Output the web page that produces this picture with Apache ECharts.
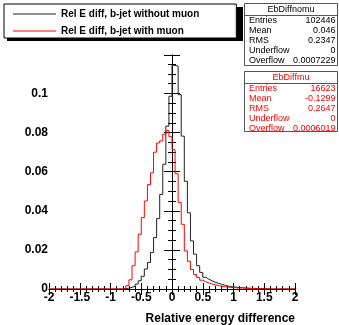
<!DOCTYPE html>
<html lang="en">
<head>
    <meta charset="UTF-8">
    <title>EbDiff</title>
    <script src="https://cdn.jsdelivr.net/npm/echarts@6/dist/echarts.min.js"></script>
    <style>
        body{margin:0;background:#fff;}
    </style>
</head>
<body>
    <div id="myChart" style="width: 339px;height:325px;"></div>

    <script>
        // histogram binning: 80 bins from -2 to 2
        var binStart = -2;
        var binWidth = 0.05;

        // Rel E diff, b-jet without muon (black)
        var noMuon = [
            0, 0, 0, 0, 0, 0, 0, 0, 0, 0,
            0, 0, 0, 0, 0, 0, 0, 0, 0, 0,
            0, 0, 0, 0, 0.0002, 0.0004, 0.0008, 0.0014, 0.0025, 0.0042,
            0.0065, 0.0102, 0.0136, 0.0187, 0.0263, 0.0360, 0.0484, 0.0638, 0.0833, 0.0986,
            0.1144, 0.1140, 0.0994, 0.0782, 0.0551, 0.0390, 0.0246, 0.0178, 0.0119, 0.0085,
            0.0060, 0.0050, 0.0042, 0.0035, 0.0030, 0.0025, 0.0020, 0.0016, 0.0013, 0.0011,
            0.0009, 0.0007, 0.0006, 0.0005, 0.0004, 0.0003, 0.0003, 0.0002, 0.0002, 0.0001,
            0.0001, 0, 0, 0, 0, 0, 0, 0, 0, 0
        ];
        // Rel E diff, b-jet with muon (red)
        var withMuon = [
            0, 0, 0, 0, 0, 0, 0, 0, 0, 0,
            0, 0, 0, 0, 0, 0, 0, 0, 0, 0,
            0, 0, 0, 0.0001, 0.0004, 0.0017, 0.0047, 0.0119, 0.0190, 0.0280,
            0.0365, 0.0450, 0.0534, 0.0594, 0.0700, 0.0747, 0.0758, 0.0792, 0.0811, 0.0779,
            0.0713, 0.0590, 0.0443, 0.0331, 0.0195, 0.0142, 0.0100, 0.0074, 0.0059, 0.0045,
            0.0037, 0.0031, 0.0026, 0.0022, 0.0018, 0.0015, 0.0012, 0.0010, 0.0008, 0.0007,
            0.0006, 0.0005, 0.0006, 0.0004, 0.0003, 0.0002, 0.0002, 0.0001, 0.0001, 0.0002,
            0.0001, 0, 0, 0, 0, 0, 0, 0, 0, 0
        ];

        var legendNames = ['Rel E diff, b-jet without muon', 'Rel E diff, b-jet with muon'];
        var statLabels = ['Entries', 'Mean', 'RMS', 'Underflow', 'Overflow'];
        var statsNoMu = ['102446', '0.046', '0.2347', '0', '0.0007229'];
        var statsMu = ['16623', '-0.1299', '0.2647', '0', '0.0006019'];

        function toSteps(values) {
            var pts = [];
            for (var i = 0; i < values.length; i++) {
                pts.push([binStart + i * binWidth, values[i]]);
            }
            pts.push([binStart + values.length * binWidth, values[values.length - 1]]);
            return pts;
        }

        var font = '"Liberation Sans", Arial, Helvetica, sans-serif';

        // stats box drawn as graphic
        function statsBox(top, height, title, values, color) {
            var els = [];
            els.push({type: 'rect', shape: {x: 244.5, y: top + 0.5, width: 93, height: height},
                style: {fill: '#fff', stroke: '#555', lineWidth: 1}, z: 10});
            els.push({type: 'line', shape: {x1: 244.5, y1: top + 12.5, x2: 337.5, y2: top + 12.5},
                style: {stroke: '#555', lineWidth: 1}, z: 11});
            els.push({type: 'text', x: 291, y: top + 6.5, z: 11,
                style: {text: title, fill: color, font: '9px ' + font, align: 'center', verticalAlign: 'middle'}});
            for (var i = 0; i < statLabels.length; i++) {
                var yy = top + 18 + i * 10;
                els.push({type: 'text', x: 249, y: yy, z: 11,
                    style: {text: statLabels[i], fill: color, font: '9px ' + font, align: 'left', verticalAlign: 'middle'}});
                els.push({type: 'text', x: 335.5, y: yy, z: 11,
                    style: {text: values[i], fill: color, font: '9px ' + font, align: 'right', verticalAlign: 'middle'}});
            }
            return els;
        }

        var myChart = echarts.init(document.getElementById('myChart'));
        var option = {
            backgroundColor: '#fff',
            animation: false,
            grid: {left: 49, top: 55, width: 246, height: 234, show: false, outerBoundsMode: 'none'},
            legend: {
                orient: 'vertical',
                left: 4,
                top: 4,
                padding: [4, 37, 1, 9],
                itemWidth: 43,
                itemHeight: 1,
                itemGap: 5,
                itemTextGap: 10,
                icon: 'rect',
                backgroundColor: '#fff',
                borderColor: '#000',
                borderWidth: 1,
                textStyle: {fontFamily: font, fontWeight: 'bold', fontSize: 10, color: '#000', lineHeight: 12},
                data: legendNames
            },
            graphic: [
                // legend shadow
                {type: 'rect', shape: {x: 7, y: 7, width: 236, height: 34}, style: {fill: '#000'}, z: 0}
            ].concat(statsBox(3, 62, 'EbDiffnomu', statsNoMu, '#000'))
             .concat(statsBox(71, 60, 'EbDiffmu', statsMu, '#f00')),
            xAxis: [{
                type: 'value',
                min: -2,
                max: 2,
                interval: 0.5,
                position: 'bottom',
                name: 'Relative energy difference',
                nameLocation: 'end',
                nameGap: 0,
                nameTextStyle: {fontFamily: font, fontWeight: 'bold', fontSize: 12, color: '#000',
                    align: 'right', verticalAlign: 'top', padding: [24, 0, 0, 0]},
                axisLine: {show: true, lineStyle: {color: '#000', width: 1}},
                axisTick: {show: true, inside: true, length: 6, lineStyle: {color: '#000'}},
                minorTick: {show: true, splitNumber: 5, length: 3, lineStyle: {color: '#000'}},
                axisLabel: {fontFamily: font, fontWeight: 'bold', fontSize: 12, color: '#000', margin: 3,
                    showMinLabel: true, showMaxLabel: true},
                splitLine: {show: false}
            }, {
                type: 'value',
                min: -2,
                max: 2,
                interval: 0.5,
                position: 'top',
                axisLine: {show: true, lineStyle: {color: '#000', width: 1}},
                axisTick: {show: true, inside: true, length: 6, lineStyle: {color: '#000'}},
                minorTick: {show: true, splitNumber: 5, length: 3, lineStyle: {color: '#000'}},
                axisLabel: {show: false},
                splitLine: {show: false}
            }],
            yAxis: [{
                type: 'value',
                min: 0,
                max: 0.1197,
                interval: 0.02,
                position: 'left',
                axisLine: {show: true, lineStyle: {color: '#000', width: 1}},
                axisTick: {show: true, inside: true, length: 8, lineStyle: {color: '#000'}},
                minorTick: {show: true, splitNumber: 4, length: 4, lineStyle: {color: '#000'}},
                axisLabel: {fontFamily: font, fontWeight: 'bold', fontSize: 12, color: '#000', margin: 1,
                    showMaxLabel: false,
                    formatter: function (v) { return v === 0 ? '0' : String(+v.toFixed(2)); }},
                splitLine: {show: false}
            }, {
                type: 'value',
                min: 0,
                max: 0.1197,
                interval: 0.02,
                position: 'right',
                axisLine: {show: true, lineStyle: {color: '#000', width: 1}},
                axisTick: {show: true, inside: true, length: 8, lineStyle: {color: '#000'}},
                minorTick: {show: true, splitNumber: 4, length: 4, lineStyle: {color: '#000'}},
                axisLabel: {show: false},
                splitLine: {show: false}
            }],
            series: [
                {
                    name: legendNames[0],
                    type: 'line',
                    step: 'end',
                    showSymbol: false,
                    symbol: 'none',
                    color: '#222',
                    lineStyle: {color: '#222', width: 1},
                    data: toSteps(noMuon)
                },
                {
                    name: legendNames[1],
                    type: 'line',
                    step: 'end',
                    showSymbol: false,
                    symbol: 'none',
                    color: '#ff0000',
                    lineStyle: {color: '#ff0000', width: 1},
                    data: toSteps(withMuon)
                }
            ]
        };
        myChart.setOption(option);
    </script>
</body>
</html>
